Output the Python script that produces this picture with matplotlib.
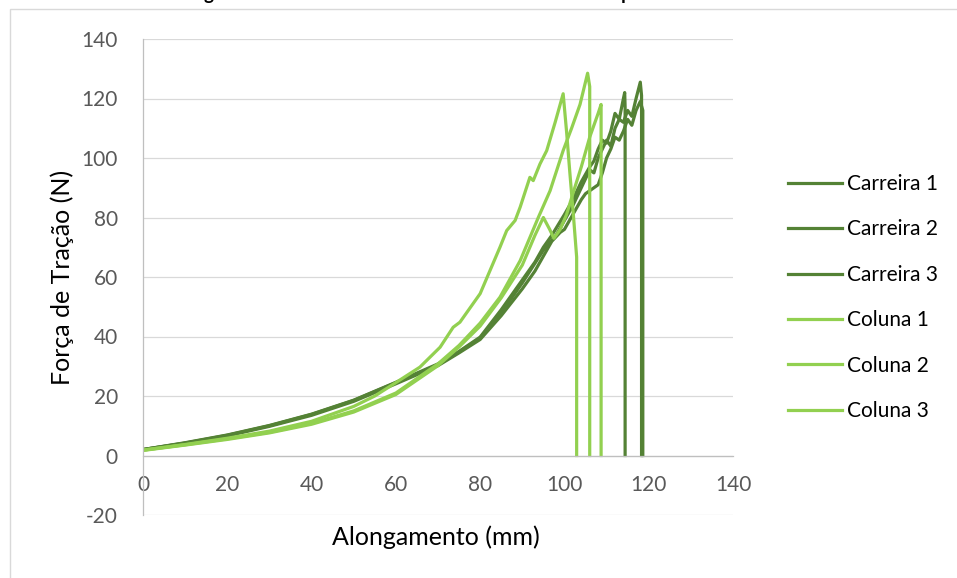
import matplotlib
matplotlib.use("Agg")
from matplotlib import pyplot as plt
from matplotlib.patches import Rectangle

# valores (Alongamento mm, Força N)
carreira1_x = [0, 10, 20, 30, 40, 50, 60, 70, 75, 80, 85, 90, 93, 95, 97, 100, 102, 104, 106, 107, 108, 109, 110, 111, 112, 113, 114, 114.3, 114.4, 114.4]
carreira1_y = [2.0, 4.3, 6.9, 10.1, 13.9, 18.6, 24.6, 30.8, 35.0, 39.8, 49, 59, 65, 70, 74, 81, 86, 92, 97, 99, 103, 106, 105, 109, 115, 113, 120, 122, 117, 0]
carreira2_x = [0, 10, 20, 30, 40, 50, 60, 70, 75, 80, 85, 90, 95, 98, 100, 102, 104, 106, 107, 108, 110, 111, 112, 113, 114, 115, 116, 117, 118, 118.3, 118.3]
carreira2_y = [2.0, 4.2, 6.8, 10.0, 13.8, 18.5, 24.5, 30.5, 34.8, 39.5, 48, 58, 69, 74, 79, 84, 90, 96, 95, 100, 106, 104, 110, 113, 112, 116, 114, 120, 125.5, 121, 0]
carreira3_x = [0, 10, 20, 30, 40, 50, 60, 70, 75, 80, 85, 90, 93, 95, 97, 99, 100, 102, 104, 105, 106, 107, 108, 109, 110, 111, 112, 113, 114, 115, 116, 117, 118, 118.6, 118.6]
carreira3_y = [2.0, 4.1, 6.6, 9.8, 13.5, 18.2, 24.1, 30.2, 34.5, 39.0, 47, 56, 62, 67, 72, 75, 76, 81, 86, 88, 89, 90, 91, 95, 100, 103, 107, 106, 109, 113, 111, 116, 119, 116, 0]

coluna1_x = [0, 10, 20, 30, 40, 50, 55, 60, 65.7, 70.5, 73.6, 75.2, 80, 84.7, 86.3, 88.3, 89.5, 91.8, 92.6, 94.2, 95.8, 97.8, 99.7, 100.5, 101.3, 102.1, 102.9, 102.9]
coluna1_y = [1.8, 3.7, 5.8, 8.2, 11.5, 16.5, 20.0, 24.5, 29.7, 36.4, 43.1, 44.8, 54.4, 70, 75.6, 79, 83.5, 93.5, 92.4, 98, 102.5, 112, 121.6, 109, 94.8, 81.3, 66.7, 0]
coluna2_x = [0, 10, 20, 30, 40, 50, 60, 70, 75, 80, 84.7, 89.5, 93.8, 96.6, 99.7, 101.7, 103.7, 105.5, 106.0, 106.0]
coluna2_y = [1.8, 3.6, 5.6, 7.8, 10.8, 15.0, 21.0, 30.8, 37.0, 44.5, 53.2, 65.5, 80, 89, 102.5, 110, 118, 128.5, 124, 0]
coluna3_x = [0, 10, 20, 30, 40, 50, 60, 70, 75, 80, 85, 90, 93, 95, 96.5, 97.5, 99, 100.5, 102, 104, 106, 108, 108.7, 108.7]
coluna3_y = [1.7, 3.5, 5.4, 7.6, 10.5, 14.6, 20.5, 30.2, 36.5, 43.5, 53, 64, 74, 80, 76, 73, 76, 81, 88, 97, 107, 115, 118, 0]

series = [
    ("Carreira 1", carreira1_x, carreira1_y),
    ("Carreira 2", carreira2_x, carreira2_y),
    ("Carreira 3", carreira3_x, carreira3_y),
    ("Coluna 1", coluna1_x, coluna1_y),
    ("Coluna 2", coluna2_x, coluna2_y),
    ("Coluna 3", coluna3_x, coluna3_y),
]
cores = ["#548235", "#548235", "#548235", "#92D050", "#92D050", "#92D050"]

plt.rcParams["font.family"] = ["Lato", "DejaVu Sans"]
plt.rcParams["axes.unicode_minus"] = False

fig = plt.figure(figsize=(9.57, 5.78), dpi=100)
ax = fig.add_axes([143 / 957, 63 / 578, 590 / 957, 476 / 578])

for (nome, xs, ys), c in zip(series, cores):
    ax.plot(xs, ys, color=c, lw=2.3, label=nome, solid_joinstyle="round")

ax.set_xlim(0, 140)
ax.set_ylim(-20, 140)
ax.set_xticks(range(0, 141, 20))
ax.set_yticks(range(-20, 141, 20))
ax.grid(axis="y", color="#d9d9d9", lw=0.9)
ax.set_axisbelow(True)
for s in ["top", "right"]:
    ax.spines[s].set_visible(False)
ax.spines["bottom"].set_position(("data", 0))
ax.spines["bottom"].set_color("#bfbfbf")
ax.spines["left"].set_color("#bfbfbf")
ax.spines["bottom"].set_linewidth(0.9)
ax.spines["left"].set_linewidth(0.9)
ax.tick_params(length=0, labelsize=15, labelcolor="#595959")
ax.tick_params(axis="x", pad=14)
ax.tick_params(axis="y", pad=18)

fig.text(62 / 957, 1 - 277 / 578, "Força de Tração (N)", rotation=90,
         ha="center", va="center", fontsize=18)
fig.text(436 / 957, 1 - 537 / 578, "Alongamento (mm)",
         ha="center", va="center", fontsize=18)

# título cortado no topo da imagem
fig.text(81 / 957, 1.0, "Ensaio de Alongamento das Amostras de Malha Tricotada à Mão por Sentido",
         ha="left", va="baseline", fontsize=13.5, fontweight="bold")

fig.legend(loc="upper left", bbox_to_anchor=(788 / 957, 1 - 174 / 578),
           frameon=False, fontsize=15, handlelength=2.6, handletextpad=0.25,
           labelspacing=1.22, borderpad=0, borderaxespad=0)

fig.add_artist(Rectangle((10 / 957, -0.1), 1.2, 1.1 - 9 / 578,
                         transform=fig.transFigure, fill=False,
                         edgecolor="#d9d9d9", lw=1, clip_on=False))

fig.savefig("out.png", dpi=100)
